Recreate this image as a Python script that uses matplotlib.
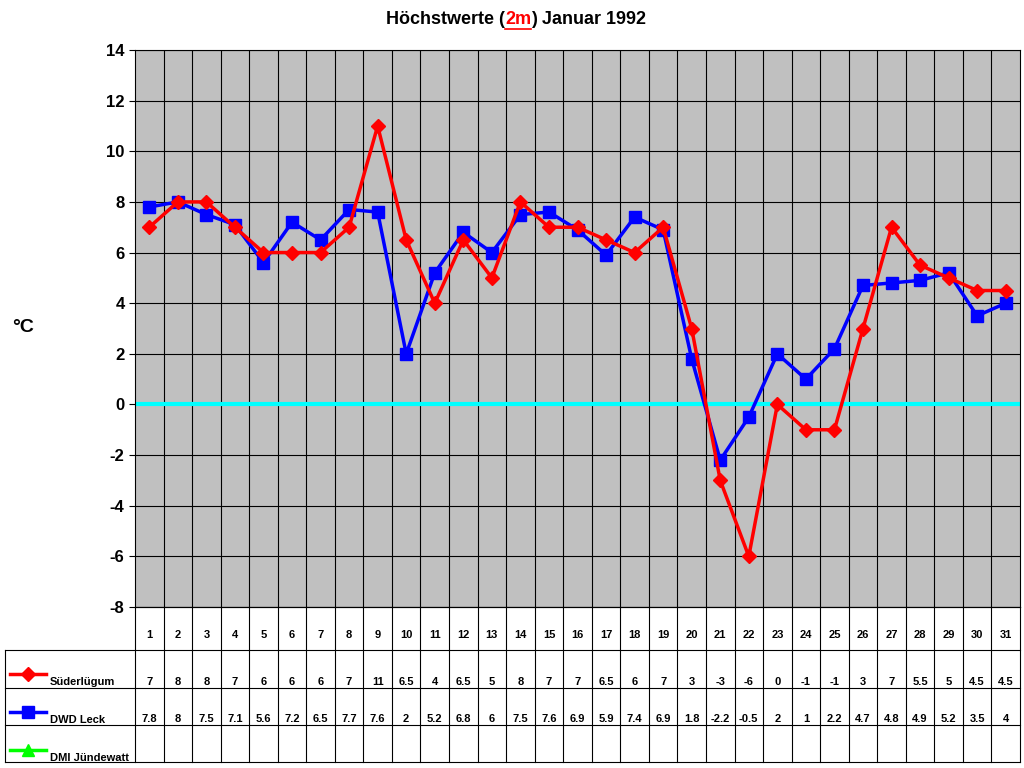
import matplotlib
matplotlib.use("Agg")
import matplotlib.pyplot as plt
import numpy as np

days = list(range(1, 32))
suederluegum = [7,8,8,7,6,6,6,7,11,6.5,4,6.5,5,8,7,7,6.5,6,7,3,-3,-6,0,-1,-1,3,7,5.5,5,4.5,4.5]
dwd_leck = [7.8,8,7.5,7.1,5.6,7.2,6.5,7.7,7.6,2,5.2,6.8,6,7.5,7.6,6.9,5.9,7.4,6.9,1.8,-2.2,-0.5,2,1,2.2,4.7,4.8,4.9,5.2,3.5,4]
series_names = ["Süderlügum", "DWD Leck", "DMI Jündewatt"]

W, H = 1024, 768
fig = plt.figure(figsize=(10.24, 7.68), dpi=100)
plt.rcParams['font.family'] = ['Liberation Sans', 'DejaVu Sans']

ax = fig.add_axes([135/W, 1-607/H, 885/W, 557/H])
ax.set_facecolor('#C0C0C0')
ax.set_xlim(0.5, 31.5)
ax.set_ylim(-8, 14)
ax.set_yticks(range(-8, 15, 2))
ax.set_yticklabels([str(v) for v in range(-8, 15, 2)], fontsize=12, fontweight='bold')
ax.set_xticks([])
for y in range(-8, 15, 2):
    ax.axhline(y, color='black', lw=0.8, zorder=1)
for x in np.arange(1.5, 31.5, 1):
    ax.axvline(x, color='black', lw=0.8, zorder=1)
ax.axhline(0, color='#00FFFF', lw=3, zorder=2)
ax.plot(days, suederluegum, color='red', lw=2.5, marker='D', ms=7, zorder=4)
ax.plot(days, dwd_leck, color='blue', lw=2.5, marker='s', ms=9, zorder=3)
ax.tick_params(axis='y', length=4)
for s in ax.spines.values():
    s.set_color('black')
fig.text(12/W, 1-328/H, "°C", fontsize=14, fontweight='bold', va='center')

# table
tb = fig.add_axes([135/W, 1-762/H, 885/W, 155/H])
tb.set_xlim(0.5, 31.5)
tb.set_ylim(762, 607)
tb.axis('off')
xl = 0.5 - 130/(885/31)
rows = [607, 650, 688, 725, 762]
for x in np.arange(0.5, 32, 1):
    tb.plot([x, x], [607, 762], color='black', lw=0.8, clip_on=False)
tb.plot([xl, xl], [650, 762], color='black', lw=0.8, clip_on=False)
for i, y in enumerate(rows):
    x0 = 0.5 if i == 0 else xl
    tb.plot([x0, 31.5], [y, y], color='black', lw=0.8, clip_on=False)
for d in days:
    tb.text(d, 635, str(d), ha='center', va='center', fontsize=8, fontweight='bold')
def fmt(v):
    return str(int(v)) if float(v).is_integer() else str(v)
for d, v in zip(days, suederluegum):
    tb.text(d, 682, fmt(v), ha='center', va='center', fontsize=8, fontweight='bold')
for d, v in zip(days, dwd_leck):
    tb.text(d, 719, fmt(v), ha='center', va='center', fontsize=8, fontweight='bold')
px = 885/31
def xp(p):
    return 0.5 + (p - 135)/px
styles = [('red', 'D', 7), ('blue', 's', 9), ('#00FF00', '^', 9)]
ys = [674, 712, 750]
for (c, m, ms), y, name in zip(styles, ys, series_names):
    tb.plot([xp(10), xp(46)], [y, y], color=c, lw=2.5, clip_on=False)
    tb.plot([xp(28)], [y], color=c, marker=m, ms=ms, clip_on=False)
    tb.text(xp(50), y+8, name, ha='left', va='center', fontsize=8, fontweight='bold')

# title
r = fig.canvas.get_renderer()
parts = [("Höchstwerte (", 'black'), ("2m", 'red'), (") Januar 1992", 'black')]
texts = []
widths = []
for s, c in parts:
    t = fig.text(0, 1-20/H, s, fontsize=13, fontweight='bold', color=c, va='center')
    texts.append(t)
    widths.append(t.get_window_extent(r).width)
x = (W*0.5+ 4 - sum(widths)/2)
for t, w in zip(texts, widths):
    t.set_x(x/W)
    x += w
x2 = (W*0.5 + 4 - sum(widths)/2 + widths[0])
fig.add_artist(plt.Line2D([x2/W, (x2+widths[1])/W], [1-29/H, 1-29/H], color='red', lw=1.2))

fig.savefig("out.png", dpi=100, facecolor='white')
